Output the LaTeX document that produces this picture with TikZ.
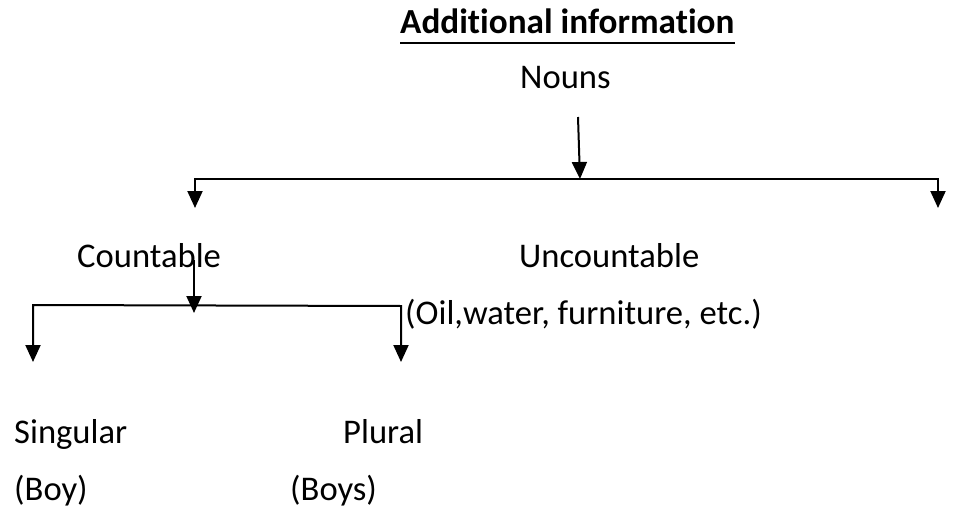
\documentclass[tikz,border=0pt]{standalone}
\usepackage{fontspec}
\setmainfont{Carlito}[RawFeature={-liga}]
\usetikzlibrary{arrows.meta}
\begin{document}
\begin{tikzpicture}[x=1pt,y=-1pt,
  lbl/.style={anchor=base west,inner sep=0pt,font=\fontsize{34.6}{40}\selectfont},
  ttl/.style={anchor=base west,inner sep=0pt,font=\fontsize{35.2}{40}\selectfont\bfseries},
  conn/.style={line width=2pt,-{Triangle[width=15pt,length=17pt]}},
  bconn/.style={line width=2pt,{Triangle[width=15pt,length=17pt]}-{Triangle[width=15pt,length=17pt]}}]
\useasboundingbox (0,0) rectangle (967,506);
\node[ttl] (title) at (400,34) {Additional information};
\draw[line width=2.6pt] ([yshift=-9pt]title.base west) -- ([yshift=-9pt]title.base east);
\node[lbl] (nouns) at (520,88) {Nouns};
\node[lbl] (count) at (77,267) {Countable};
\node[lbl] (uncount) at (519,267) {Uncountable};
\node[lbl] (ex) at (405,324) {(Oil,water, furniture, etc.)};
\node[lbl] (sing) at (14,443) {Singular};
\node[lbl] (plur) at (343,443) {Plural};
\node[lbl] (boy) at (14,500) {(Boy)};
\node[lbl] (boys) at (290,500) {(Boys)};
% top level
\coordinate (n1) at (578,117);
\coordinate (n2) at (580,179);
\coordinate (bl) at (195,208);
\coordinate (blc) at (195,179);
\coordinate (brc) at (938,179);
\coordinate (br) at (938,208);
\draw[conn] (n1) -- (n2);
\draw[bconn] (bl) -- (blc) -- (brc) -- (br);
% countable level
\coordinate (c1) at (194,260);
\coordinate (c2) at (194,313);
\coordinate (sl) at (33,362);
\coordinate (slc) at (33,305);
\coordinate (src) at (401,306);
\coordinate (sr) at (401,362);
\draw[conn] (c1) -- (c2);
\draw[bconn] (sl) -- (slc) -- (src) -- (sr);
\end{tikzpicture}
\end{document}
